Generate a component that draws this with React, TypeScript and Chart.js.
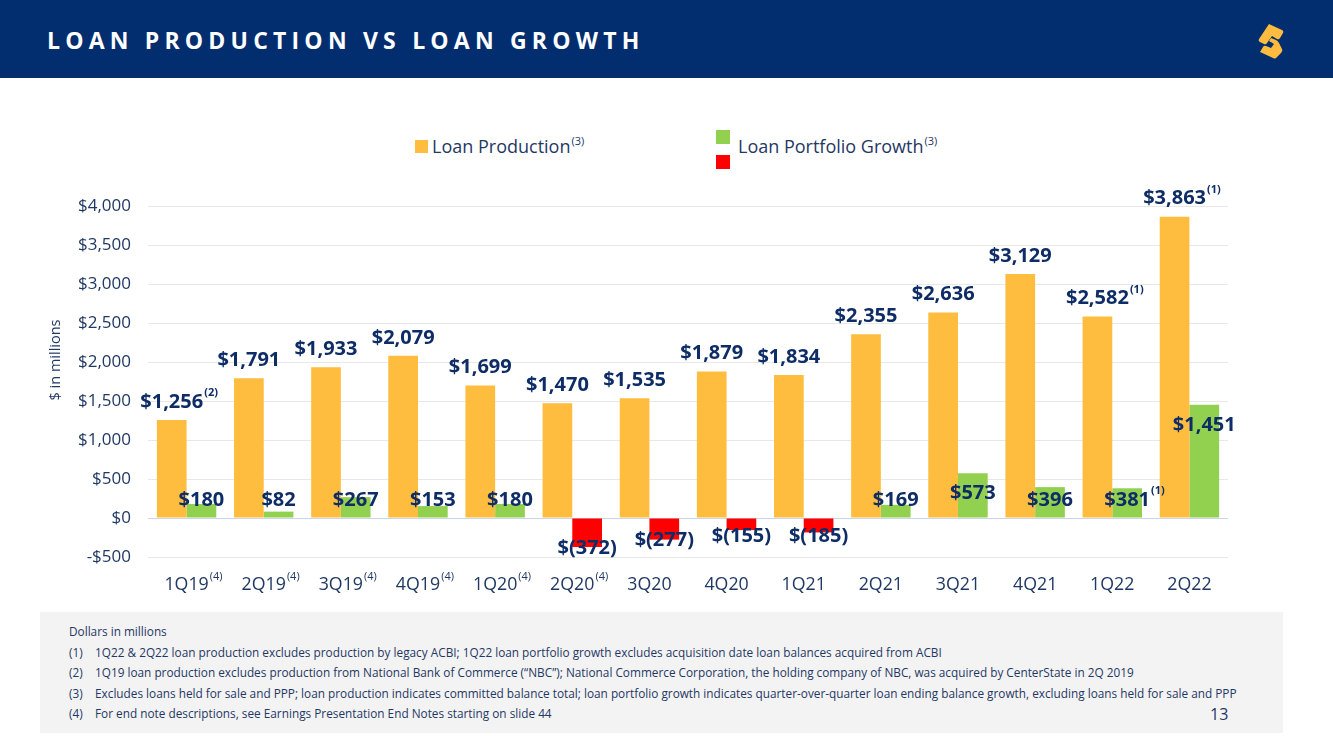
import React, { useEffect, useRef } from "react";
import { Chart, registerables } from "chart.js";

Chart.register(...registerables);

// ---------- data ----------
const categories = ["1Q19", "2Q19", "3Q19", "4Q19", "1Q20", "2Q20", "3Q20", "4Q20", "1Q21", "2Q21", "3Q21", "4Q21", "1Q22", "2Q22"];
const categoryNotes = ["(4)", "(4)", "(4)", "(4)", "(4)", "(4)", "", "", "", "", "", "", "", ""];
const loanProduction = [1256, 1791, 1933, 2079, 1699, 1470, 1535, 1879, 1834, 2355, 2636, 3129, 2582, 3863];
const productionNotes = ["(2)", "", "", "", "", "", "", "", "", "", "", "", "(1)", "(1)"];
const portfolioGrowth = [180, 82, 267, 153, 180, -372, -277, -155, -185, 169, 573, 396, 381, 1451];
const growthNotes = ["", "", "", "", "", "", "", "", "", "", "", "", "(1)", ""];
const yMin = -500;
const yMax = 4000;
const yStep = 500;
const footnotes = [
  ["", "Dollars in millions"],
  ["(1)", "1Q22 & 2Q22 loan production excludes production by legacy ACBI; 1Q22 loan portfolio growth excludes acquisition date loan balances acquired from ACBI"],
  ["(2)", "1Q19 loan production excludes production from National Bank of Commerce (\u201CNBC\u201D); National Commerce Corporation, the holding company of NBC, was acquired by CenterState in 2Q 2019"],
  ["(3)", "Excludes loans held for sale and PPP; loan production indicates committed balance total; loan portfolio growth indicates quarter-over-quarter loan ending balance growth, excluding loans held for sale and PPP"],
  ["(4)", "For end note descriptions, see Earnings Presentation End Notes starting on slide 44"],
];

// ---------- styles ----------
const NAVY = "#022D6E";
const LABEL = "#0E2C66";
const TICK = "#1F3864";
const ORANGE = "#FFBD3F";
const GREEN = "#92D050";
const RED = "#FF0000";
const FONT = "'Open Sans', sans-serif";

const fmt = (v: number) =>
  v < 0 ? `$(${Math.abs(v).toLocaleString("en-US")})` : `$${v.toLocaleString("en-US")}`;

function drawSup(
  ctx: CanvasRenderingContext2D,
  main: string,
  sup: string,
  cx: number,
  cy: number,
  mainFont: string,
  supFont: string,
  raise: number
) {
  ctx.font = mainFont;
  const w = ctx.measureText(main).width;
  ctx.textAlign = "left";
  ctx.textBaseline = "middle";
  const x0 = cx - w / 2;
  ctx.fillText(main, x0, cy);
  if (sup) {
    ctx.font = supFont;
    ctx.fillText(sup, x0 + w + 1, cy - raise);
  }
}

const labelPlugin = {
  id: "customLabels",
  afterDatasetsDraw(chart: any) {
    const ctx: CanvasRenderingContext2D = chart.ctx;
    const ys = chart.scales.y;
    const xs = chart.scales.x;
    const zeroY = ys.getPixelForValue(0);
    const m0 = chart.getDatasetMeta(0);
    const m1 = chart.getDatasetMeta(1);
    ctx.save();
    ctx.fillStyle = LABEL;
    const mainFont = `bold 20px ${FONT}`;
    const supFont = `bold 11px ${FONT}`;
    m0.data.forEach((bar: any, i: number) => {
      drawSup(ctx, fmt(loanProduction[i]), productionNotes[i], bar.x, bar.y - 18, mainFont, supFont, 9);
    });
    m1.data.forEach((bar: any, i: number) => {
      const v = portfolioGrowth[i];
      let cy: number;
      if (v >= 0) cy = Math.min(bar.y + 20, zeroY - 18);
      else cy = Math.max(bar.y + 1, zeroY + 18);
      drawSup(ctx, fmt(v), growthNotes[i], bar.x, cy, mainFont, supFont, 9);
    });
    // x-axis labels with superscripts
    ctx.fillStyle = TICK;
    categories.forEach((c, i) => {
      const cx = xs.getPixelForValue(i);
      drawSup(ctx, c, categoryNotes[i], cx, 585, `17.8px ${FONT}`, `11px ${FONT}`, 8);
    });
    // y-axis title
    ctx.save();
    ctx.translate(56, 360);
    ctx.rotate(-Math.PI / 2);
    ctx.font = `14.5px ${FONT}`;
    ctx.textAlign = "center";
    ctx.textBaseline = "middle";
    ctx.fillText("$ in millions", 0, 0);
    ctx.restore();
    ctx.restore();
  },
};

export default function App() {
  const canvasRef = useRef<HTMLCanvasElement | null>(null);

  useEffect(() => {
    if (!canvasRef.current) return;
    const chart = new Chart(canvasRef.current, {
      type: "bar",
      data: {
        labels: categories,
        datasets: [
          {
            label: "Loan Production",
            data: loanProduction,
            backgroundColor: ORANGE,
            categoryPercentage: 0.77,
            barPercentage: 1,
          },
          {
            label: "Loan Portfolio Growth",
            data: portfolioGrowth,
            backgroundColor: portfolioGrowth.map((v) => (v < 0 ? RED : GREEN)),
            categoryPercentage: 0.77,
            barPercentage: 1,
          },
        ],
      },
      options: {
        responsive: false,
        animation: false,
        devicePixelRatio: 1,
        layout: { padding: { left: 0, top: 206, right: 105, bottom: 192 } },
        plugins: {
          legend: { display: false },
          tooltip: { enabled: false },
        },
        scales: {
          x: {
            grid: { display: false },
            border: { display: false },
            ticks: { display: false },
            afterFit: (s: any) => {
              s.height = 0;
            },
          },
          y: {
            min: yMin,
            max: yMax,
            border: { display: false },
            grid: {
              drawTicks: false,
              color: (c: any) => (c.tick && c.tick.value === 0 ? "#C9D7EE" : "#E8E8E8"),
              lineWidth: 1,
            },
            ticks: {
              stepSize: yStep,
              padding: 17,
              color: TICK,
              font: { family: FONT, size: 17 },
              callback: (v: any) => (v < 0 ? `-$${Math.abs(v).toLocaleString("en-US")}` : `$${Number(v).toLocaleString("en-US")}`),
            },
            afterFit: (s: any) => {
              s.width = 148;
            },
          },
        },
      },
      plugins: [labelPlugin],
    });
    return () => chart.destroy();
  }, []);

  const legendText: React.CSSProperties = {
    position: "absolute",
    fontFamily: FONT,
    fontSize: 18,
    color: TICK,
    lineHeight: "24px",
    whiteSpace: "nowrap",
  };
  const supStyle: React.CSSProperties = { fontSize: 11, verticalAlign: "top", position: "relative", top: -5, marginLeft: 1 };

  return (
    <div style={{ position: "absolute", left: 0, top: 0, width: 1333, height: 749, background: "#fff", overflow: "hidden" }}>
      {/* header */}
      <div style={{ position: "absolute", left: 0, top: 0, width: 1333, height: 78, background: NAVY }} />
      <div
        style={{
          position: "absolute",
          left: 47,
          top: 24,
          fontFamily: FONT,
          fontWeight: 700,
          fontSize: 23,
          letterSpacing: 5.2,
          color: "#fff",
          lineHeight: "32px",
          whiteSpace: "nowrap",
        }}
      >
        LOAN PRODUCTION VS LOAN GROWTH
      </div>
      <svg style={{ position: "absolute", left: 1250, top: 18 }} width={44} height={46} viewBox="0 0 44 46">
        <path d="M19 6 L32 12 Q34 13 33 15 L30 20 Q29 22 27 21 L22 18 L17 25 Q16 27 14 26 L10 24 Q8 23 9 21 Z" fill="#FDBB40" />
        <path d="M21 20 L26 22 Q28 23 29 25 L32 31 Q33 33 31 35 L26 40 Q25 41 23 40 L10 34 L13 29 Q14 27 16 28 L21 30 L24 26 L19 23 Z" fill="#FDBB40" />
      </svg>

      {/* legend */}
      <div style={{ position: "absolute", left: 415, top: 140, width: 13, height: 13, background: ORANGE }} />
      <div style={{ ...legendText, left: 432, top: 134 }}>
        Loan Production<span style={supStyle}>(3)</span>
      </div>
      <div style={{ position: "absolute", left: 716, top: 130, width: 14, height: 14, background: GREEN }} />
      <div style={{ position: "absolute", left: 716, top: 155, width: 14, height: 14, background: RED }} />
      <div style={{ ...legendText, left: 738, top: 134 }}>
        Loan Portfolio Growth<span style={supStyle}>(3)</span>
      </div>

      {/* footnotes */}
      <div style={{ position: "absolute", left: 40, top: 612, width: 1243, height: 121, background: "#F3F3F3" }} />
      {footnotes.map(([n, t], i) => (
        <div
          key={i}
          style={{
            position: "absolute",
            left: 69,
            top: 622 + i * 20.5,
            fontFamily: FONT,
            fontSize: 11.8,
            lineHeight: "18px",
            color: TICK,
            whiteSpace: "nowrap",
          }}
        >
          {n ? (
            <>
              <span style={{ display: "inline-block", width: 26 }}>{n}</span>
              {t}
            </>
          ) : (
            t
          )}
        </div>
      ))}
      <div
        style={{
          position: "absolute",
          left: 1210,
          top: 703,
          fontFamily: FONT,
          fontSize: 16,
          lineHeight: "22px",
          color: TICK,
        }}
      >
        13
      </div>

      <canvas ref={canvasRef} width={1333} height={749} style={{ position: "absolute", left: 0, top: 0 }} />
    </div>
  );
}
